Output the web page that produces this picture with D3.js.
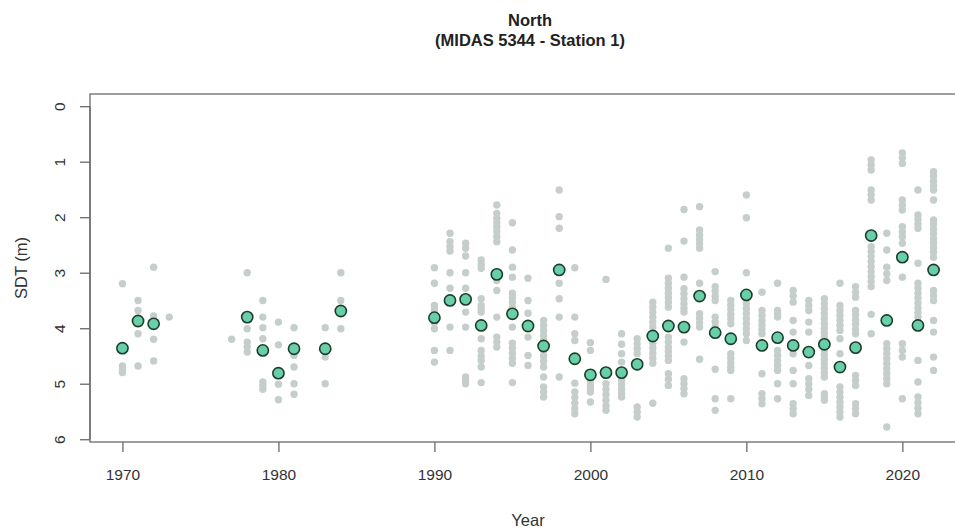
<!DOCTYPE html>
<html>
<head>
<meta charset="utf-8">
<script src="https://cdn.jsdelivr.net/npm/d3@7"></script>
<style>
  body { margin: 0; background: #fff; }
  svg { display: block; font-family: "Liberation Sans", Arial, sans-serif; }
</style>
</head>
<body>
<svg id="chart" width="955" height="529"></svg>
<script>
// 年ごとの観測値 (灰色の点)
const sampleYears = [1970, 1971, 1972, 1973, 1977, 1978, 1979, 1980, 1981, 1983, 1984,
    1990, 1991, 1992, 1993, 1994, 1995, 1996, 1997, 1998, 1999,
    2000, 2001, 2002, 2003, 2004, 2005, 2006, 2007, 2008, 2009,
    2010, 2011, 2012, 2013, 2014, 2015, 2016, 2017, 2018, 2019,
    2020, 2021, 2022];
const sampleSDT = [
    [3.20, 4.68, 4.74, 4.80],
    [3.50, 3.68, 3.87, 4.10, 4.68],
    [2.90, 3.78, 3.92, 4.20, 4.59],
    [3.80],
    [4.20],
    [3.00, 3.80, 4.01, 4.25, 4.34, 4.43],
    [3.50, 3.80, 3.99, 4.19, 4.40, 4.97, 5.04, 5.10],
    [3.89, 4.30, 4.80, 5.01, 5.29],
    [3.99, 4.37, 4.49, 4.70, 5.00, 5.19],
    [3.99, 4.37, 4.52, 5.00],
    [3.00, 3.50, 3.69, 4.01],
    [2.91, 3.19, 3.59, 3.67, 3.74, 3.90, 4.01, 4.40, 4.61],
    [2.29, 2.44, 2.53, 2.61, 3.00, 3.28, 3.50, 3.98, 4.40],
    [2.47, 2.56, 2.70, 3.00, 3.28, 3.48, 3.71, 3.98, 4.88, 4.94, 5.00],
    [2.77, 2.85, 2.92, 3.47, 3.59, 3.65, 3.71, 3.95, 4.19, 4.40, 4.50, 4.58, 4.70, 4.98],
    [1.78, 1.93, 2.02, 2.10, 2.18, 2.26, 2.35, 2.44, 3.03, 3.14, 3.32, 3.80, 4.16, 4.25, 4.34],
    [2.10, 2.59, 2.90, 3.08, 3.37, 3.45, 3.53, 3.62, 3.74, 3.98, 4.27, 4.36, 4.45, 4.54, 4.63, 4.98],
    [3.10, 3.50, 3.73, 3.96, 4.16, 4.49, 4.67],
    [3.86, 3.95, 4.04, 4.13, 4.22, 4.32, 4.40, 4.50, 4.60, 4.70, 4.88, 5.06, 5.15, 5.24],
    [1.51, 1.99, 2.20, 2.95, 3.19, 3.47, 3.80, 4.88],
    [2.91, 3.80, 4.10, 4.22, 4.55, 4.99, 5.15, 5.25, 5.35, 5.45, 5.54],
    [4.26, 4.40, 4.83, 4.94, 5.02, 5.09, 5.15, 5.33],
    [3.12, 4.79, 5.00, 5.10, 5.20, 5.30, 5.40, 5.48],
    [4.10, 4.29, 4.46, 4.61, 4.80, 4.94, 5.02, 5.10, 5.17, 5.24],
    [4.19, 4.28, 4.37, 4.46, 4.65, 5.42, 5.51, 5.60],
    [3.53, 3.62, 3.71, 3.80, 3.89, 3.98, 4.14, 4.27, 4.36, 4.45, 4.54, 4.63, 5.35],
    [2.56, 3.10, 3.19, 3.28, 3.37, 3.45, 3.53, 3.62, 3.96, 4.16, 4.25, 4.34, 4.42, 4.50, 4.58, 4.82, 4.92, 5.03],
    [1.86, 2.43, 3.08, 3.29, 3.38, 3.47, 3.56, 3.64, 3.71, 3.98, 4.25, 4.91, 5.00, 5.09, 5.18],
    [1.81, 2.23, 2.32, 2.40, 2.48, 2.56, 3.19, 3.42, 3.74, 3.82, 3.90, 3.98, 4.56],
    [2.98, 3.25, 3.33, 3.42, 3.50, 3.80, 3.89, 3.98, 4.08, 4.74, 5.27, 5.48],
    [3.50, 3.58, 3.66, 3.75, 3.83, 3.92, 4.19, 4.46, 4.54, 4.62, 4.70, 4.76, 5.27],
    [1.60, 2.01, 3.00, 3.40, 3.56, 3.65, 3.74, 3.83, 3.92, 4.01, 4.10, 4.22],
    [3.35, 3.68, 3.77, 3.86, 3.94, 4.02, 4.10, 4.31, 4.82, 5.18, 5.27, 5.36],
    [3.19, 3.68, 3.74, 3.80, 4.17, 4.40, 4.49, 4.58, 4.67, 4.76, 5.00, 5.27],
    [3.32, 3.42, 3.53, 3.86, 4.07, 4.31, 4.46, 4.76, 5.00, 5.36, 5.45, 5.54],
    [3.50, 3.59, 3.68, 3.89, 4.07, 4.43, 4.67, 4.91, 5.00, 5.10, 5.21],
    [3.47, 3.56, 3.65, 3.74, 3.83, 3.92, 4.00, 4.08, 4.16, 4.29, 4.40, 4.48, 4.56, 4.64, 4.72, 4.80, 4.88, 5.18, 5.24, 5.30],
    [3.19, 3.59, 3.68, 3.77, 3.86, 3.95, 4.04, 4.19, 4.46, 4.70, 5.06, 5.15, 5.24, 5.33, 5.42, 5.51, 5.60],
    [3.25, 3.35, 3.44, 3.68, 3.76, 3.85, 3.93, 4.02, 4.10, 4.35, 4.85, 4.94, 5.03, 5.36, 5.45, 5.54],
    [0.97, 1.06, 1.15, 1.51, 1.60, 1.69, 2.33, 2.53, 2.62, 2.71, 2.80, 2.89, 2.98, 3.07, 3.16, 3.25, 3.75, 4.10],
    [2.29, 2.59, 2.90, 3.02, 3.14, 3.86, 4.28, 4.37, 4.46, 4.55, 4.64, 4.73, 4.82, 4.91, 5.00, 5.78],
    [0.84, 0.93, 1.03, 1.69, 1.78, 1.87, 2.17, 2.26, 2.35, 2.47, 2.72, 3.08, 4.28, 4.40, 4.52, 5.27],
    [1.51, 1.96, 2.04, 2.12, 2.20, 2.83, 3.19, 3.28, 3.37, 3.46, 3.55, 3.64, 3.72, 3.80, 3.95, 4.58, 4.97, 5.24, 5.34, 5.44, 5.54],
    [1.18, 1.26, 1.35, 1.43, 1.51, 1.69, 2.05, 2.13, 2.22, 2.30, 2.39, 2.47, 2.55, 2.63, 2.72, 2.95, 3.32, 3.41, 3.50, 3.86, 4.07, 4.52, 4.76]
];

// 年平均 (緑の丸)
const meanYears = [1970, 1971, 1972, 1978, 1979, 1980, 1981, 1983, 1984,
    1990, 1991, 1992, 1993, 1994, 1995, 1996, 1997, 1998, 1999,
    2000, 2001, 2002, 2003, 2004, 2005, 2006, 2007, 2008, 2009,
    2010, 2011, 2012, 2013, 2014, 2015, 2016, 2017, 2018, 2019,
    2020, 2021, 2022];
const meanSDT = [4.36, 3.87, 3.92, 3.80, 4.40, 4.81, 4.37, 4.37, 3.69,
    3.81, 3.50, 3.48, 3.95, 3.03, 3.74, 3.96, 4.32, 2.95, 4.55,
    4.84, 4.80, 4.80, 4.65, 4.14, 3.96, 3.98, 3.42, 4.08, 4.19,
    3.40, 4.31, 4.17, 4.31, 4.43, 4.29, 4.70, 4.35, 2.33, 3.86,
    2.72, 3.95, 2.95];

const xTicks = [1970, 1980, 1990, 2000, 2010, 2020];
const yTicks = [0, 1, 2, 3, 4, 5, 6];

const titleLines = ["North", "(MIDAS 5344 - Station 1)"];
const xTitle = "Year";
const yTitle = "SDT (m)";

function main() {
    const svg = d3.select("#chart");

    /** プロット領域 */
    const box = { left: 90, right: 966, top: 94, bottom: 442 };

    const x = d3.scaleLinear().domain([1967.92, 2024.08]).range([box.left, box.right]);
    // 深さなので上が0
    const y = d3.scaleLinear().domain([-0.22, 6.05]).range([box.top, box.bottom]);

    // 灰色の点
    const samples = [];
    sampleYears.forEach((yr, i) => {
        for (let v of sampleSDT[i]) samples.push({ year: yr, value: v });
    });

    svg.append("g")
        .selectAll("circle")
        .data(samples)
        .join("circle")
        .attr("cx", d => x(d.year))
        .attr("cy", d => y(d.value))
        .attr("r", 3.7)
        .attr("fill", "#c6cecb");

    // 平均値
    svg.append("g")
        .selectAll("circle")
        .data(meanYears.map((yr, i) => ({ year: yr, value: meanSDT[i] })))
        .join("circle")
        .attr("cx", d => x(d.year))
        .attr("cy", d => y(d.value))
        .attr("r", 5.6)
        .attr("fill", "#68cfa9")
        .attr("stroke", "#1d3e2e")
        .attr("stroke-width", 1.6);

    // 枠
    svg.append("rect")
        .attr("x", box.left)
        .attr("y", box.top)
        .attr("width", box.right - box.left)
        .attr("height", box.bottom - box.top)
        .attr("fill", "none")
        .attr("stroke", "#6a6a6a")
        .attr("stroke-width", 1.3);

    // x軸
    const xAxis = svg.append("g")
        .attr("transform", `translate(0,${box.bottom})`)
        .call(d3.axisBottom(x).tickValues(xTicks).tickFormat(d3.format("d")).tickSize(10).tickPadding(17));
    xAxis.select(".domain").remove();

    // y軸
    const yAxis = svg.append("g")
        .attr("transform", `translate(${box.left},0)`)
        .call(d3.axisLeft(y).tickValues(yTicks).tickFormat(d3.format("d")).tickSize(10));
    yAxis.select(".domain")
        .attr("d", `M0,${y(0)}V${y(6)}`);

    for (let g of [xAxis, yAxis]) {
        g.selectAll("line, .domain").attr("stroke", "#6a6a6a").attr("stroke-width", 1.3);
        g.selectAll("text")
            .attr("fill", "#333")
            .style("font-size", "15.5px")
            .style("font-family", "'Liberation Sans', Arial, sans-serif");
    }

    // y軸の目盛りは縦書き
    yAxis.selectAll(".tick text")
        .attr("x", null)
        .attr("dy", null)
        .attr("text-anchor", "middle")
        .attr("dominant-baseline", "central")
        .attr("transform", "translate(-31,0) rotate(-90)");

    // タイトル
    svg.append("g")
        .selectAll("text")
        .data(titleLines)
        .join("text")
        .attr("x", 530)
        .attr("y", (d, i) => 20 + i * 19.5)
        .attr("text-anchor", "middle")
        .attr("dominant-baseline", "central")
        .attr("font-weight", "bold")
        .attr("font-size", "16.5px")
        .attr("fill", "#222")
        .text(d => d);

    svg.append("text")
        .attr("x", (box.left + 966) / 2)
        .attr("y", 520)
        .attr("text-anchor", "middle")
        .attr("dominant-baseline", "central")
        .attr("font-size", "16.5px")
        .attr("fill", "#333")
        .text(xTitle);

    svg.append("text")
        .attr("transform", `translate(21,${(box.top + box.bottom) / 2}) rotate(-90)`)
        .attr("text-anchor", "middle")
        .attr("dominant-baseline", "central")
        .attr("font-size", "16.5px")
        .attr("fill", "#333")
        .text(yTitle);
}

main();
</script>
</body>
</html>
